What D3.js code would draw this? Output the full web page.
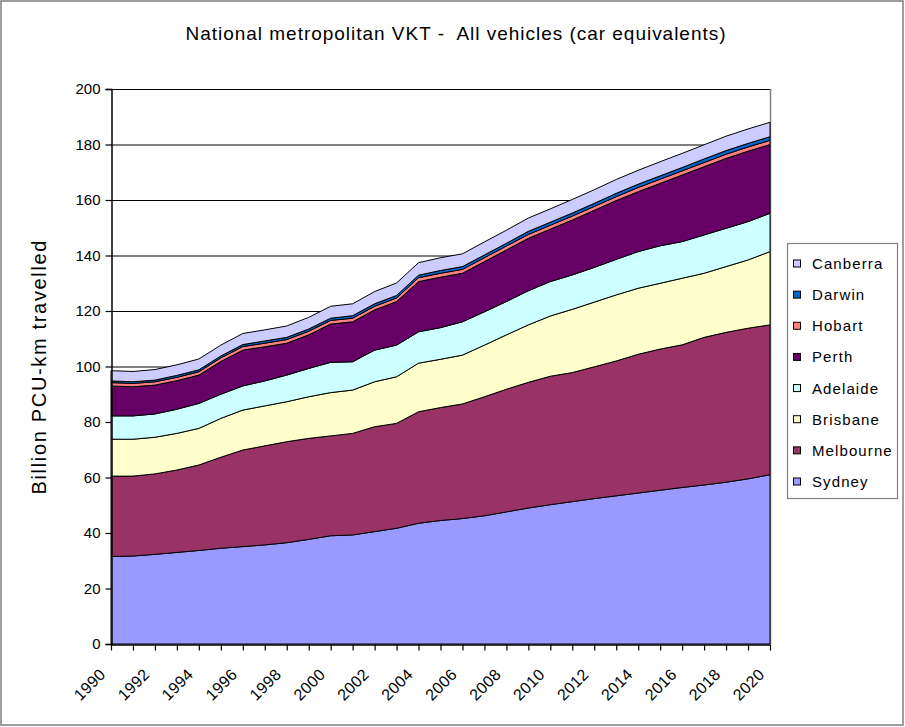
<!DOCTYPE html>
<html><head><meta charset="utf-8">
<script src="https://cdn.jsdelivr.net/npm/d3@7"></script>
<style>
html,body{margin:0;padding:0;background:#fff;}
text{font-family:"Liberation Sans",Arial,sans-serif;fill:#000;}
</style></head>
<body><svg id="chart" width="905" height="727"></svg>
<script>
const years = d3.range(1990, 2021);
const seriesNames = ["Sydney","Melbourne","Brisbane","Adelaide","Perth","Hobart","Darwin","Canberra"];
const legendOrder = ["Canberra","Darwin","Hobart","Perth","Adelaide","Brisbane","Melbourne","Sydney"];
const colors = {Sydney:"#9999FF",Melbourne:"#993366",Brisbane:"#FFFFCC",Adelaide:"#CCFFFF",Perth:"#660066",Hobart:"#FF8080",Darwin:"#0066CC",Canberra:"#CCCCFF"};
const yTicks = [0,20,40,60,80,100,120,140,160,180,200];
const xLabels = [1990,1992,1994,1996,1998,2000,2002,2004,2006,2008,2010,2012,2014,2016,2018,2020];

const sydney = [31.5,31.7,32.3,33.0,33.7,34.5,35.1,35.7,36.5,37.7,39.0,39.3,40.5,41.7,43.5,44.5,45.2,46.2,47.6,49.0,50.2,51.3,52.4,53.4,54.4,55.4,56.4,57.3,58.3,59.5,61.0];
const melbourne = [29.0,28.8,29.0,29.7,30.8,32.8,34.8,35.7,36.4,36.4,36.0,36.6,37.8,37.8,40.2,40.7,41.3,42.9,44.2,45.3,46.3,46.5,47.5,48.6,50.0,50.9,51.4,53.2,54.0,54.3,54.0];
const brisbane = [13.3,13.3,13.2,13.2,13.2,14.0,14.4,14.4,14.4,15.0,15.6,15.6,16.2,16.8,17.5,17.4,17.6,18.6,19.6,20.7,21.7,22.8,23.3,23.8,23.8,23.7,24.0,23.1,23.7,24.6,26.4];
const adelaide = [8.4,8.4,8.4,8.7,9.0,8.7,8.7,9.0,9.6,10.2,10.9,10.2,11.4,11.4,11.3,11.4,12.0,12.0,12.0,12.3,12.4,12.4,12.5,12.8,13.2,13.5,13.2,13.8,13.8,13.8,13.8];
const perth = [10.8,10.5,10.4,10.3,10.2,11.8,12.9,12.3,11.5,12.1,13.8,14.4,14.5,15.7,18.1,18.2,17.5,18.1,18.6,18.9,18.9,19.8,20.6,21.2,21.6,22.5,24.0,24.6,25.2,25.4,24.8];
const hobart = [1.2,1.2,1.2,1.2,1.2,1.3,1.3,1.3,1.3,1.3,1.3,1.3,1.3,1.3,1.4,1.4,1.4,1.4,1.4,1.4,1.4,1.4,1.4,1.4,1.5,1.5,1.5,1.5,1.5,1.5,1.5];
const darwin = [0.6,0.6,0.6,0.7,0.7,0.7,0.7,0.8,0.8,0.8,0.8,0.9,0.9,0.9,0.9,1.0,1.0,1.0,1.0,1.1,1.1,1.1,1.1,1.2,1.2,1.2,1.2,1.3,1.3,1.3,1.3];
const canberra = [3.7,3.7,3.8,3.8,3.9,3.9,4.0,4.0,4.1,4.2,4.3,4.3,4.4,4.5,4.5,4.6,4.6,4.7,4.7,4.8,4.8,4.9,4.9,5.0,5.0,5.1,5.1,5.1,5.2,5.2,5.2];

const valuesBy = {Sydney:sydney,Melbourne:melbourne,Brisbane:brisbane,Adelaide:adelaide,Perth:perth,Hobart:hobart,Darwin:darwin,Canberra:canberra};
const table = years.map((yr,i)=>{const o={year:yr}; seriesNames.forEach(n=>o[n]=valuesBy[n][i]); return o;});

const svg = d3.select("#chart");
const W=905,H=727;
const plot = {left:111,right:770,top:89,bottom:644};

// outer border
svg.append("rect").attr("x",1).attr("y",1).attr("width",W-3).attr("height",H-3)
  .attr("fill","#fff").attr("stroke","#7f7f7f").attr("stroke-width",1.5);

const x = d3.scaleLinear().domain([1990,2020]).range([plot.left,plot.right]);
const y = d3.scaleLinear().domain([0,200]).range([plot.bottom,plot.top]);

// gridlines
svg.append("g").selectAll("line").data(yTicks.filter(t=>t>0)).join("line")
  .attr("x1",plot.left).attr("x2",plot.right)
  .attr("y1",d=>y(d)+0.5).attr("y2",d=>y(d)+0.5)
  .attr("stroke","#000").attr("stroke-width",1);
// right border of plot area
svg.append("line").attr("x1",plot.right+0.5).attr("x2",plot.right+0.5)
  .attr("y1",plot.top).attr("y2",plot.bottom).attr("stroke","#808080").attr("stroke-width",1.5);

const stack = d3.stack().keys(seriesNames);
const layers = stack(table);
const area = d3.area().x(d=>x(d.data.year)).y0(d=>y(d[0])).y1(d=>y(d[1]));
svg.append("g").selectAll("path").data(layers).join("path")
  .attr("d",area).attr("fill",d=>colors[d.key])
  .attr("stroke","#000").attr("stroke-width",1).attr("stroke-linejoin","round");

// y axis
const yAxis = d3.axisLeft(y).tickValues(yTicks).tickSize(6).tickPadding(5).tickFormat(d3.format("d"));
const gy = svg.append("g").attr("transform",`translate(${plot.left+0.5},0)`).call(yAxis);
gy.select(".domain").attr("stroke","#000").attr("stroke-width",1.5);
gy.selectAll(".tick line").attr("stroke","#000").attr("stroke-width",1.2);
gy.selectAll("text").style("font-size","15px").attr("fill","#000");

// x axis
const xAxis = d3.axisBottom(x).tickValues(years).tickSize(6).tickSizeOuter(0)
  .tickFormat(d=>xLabels.includes(d)?String(d):"");
const gx = svg.append("g").attr("transform",`translate(0,${plot.bottom+0.5})`).call(xAxis);
gx.select(".domain").attr("stroke","#000").attr("stroke-width",1.5);
gx.selectAll(".tick line").attr("stroke","#000").attr("stroke-width",1.2);
gx.selectAll("text").style("font-size","16px").style("letter-spacing","0.3px").attr("fill","#222")
  .attr("text-anchor","end").attr("dy",null).attr("y",0)
  .attr("transform","translate(-5,31) rotate(-45)");

// title
svg.append("text").attr("x",455.5).attr("y",40).attr("text-anchor","middle")
  .attr("textLength",540).attr("lengthAdjust","spacing")
  .style("font-size","19px").style("white-space","pre")
  .text("National metropolitan VKT -  All vehicles (car equivalents)");

// y axis title
svg.append("text").attr("transform","translate(46,367.5) rotate(-90)").attr("text-anchor","middle")
  .attr("textLength",254).attr("lengthAdjust","spacing")
  .style("font-size","20px").text("Billion PCU-km travelled");

// legend
const lg = svg.append("g");
lg.append("rect").attr("x",787.5).attr("y",243.5).attr("width",110).attr("height",255)
  .attr("fill","#fff").attr("stroke","#7f7f7f").attr("stroke-width",1.2);
const ly = d3.scalePoint().domain(legendOrder).range([263.5,481.5]);
const items = lg.selectAll("g.item").data(legendOrder).join("g").attr("class","item")
  .attr("transform",d=>`translate(0,${ly(d)})`);
items.append("rect").attr("x",793.5).attr("y",-3.5).attr("width",7).attr("height",7)
  .attr("fill",d=>colors[d]).attr("stroke","#000").attr("stroke-width",1);
items.append("text").attr("x",812).attr("y",5.5).style("font-size","15px").style("letter-spacing","1.1px").text(d=>d);
</script></body></html>
